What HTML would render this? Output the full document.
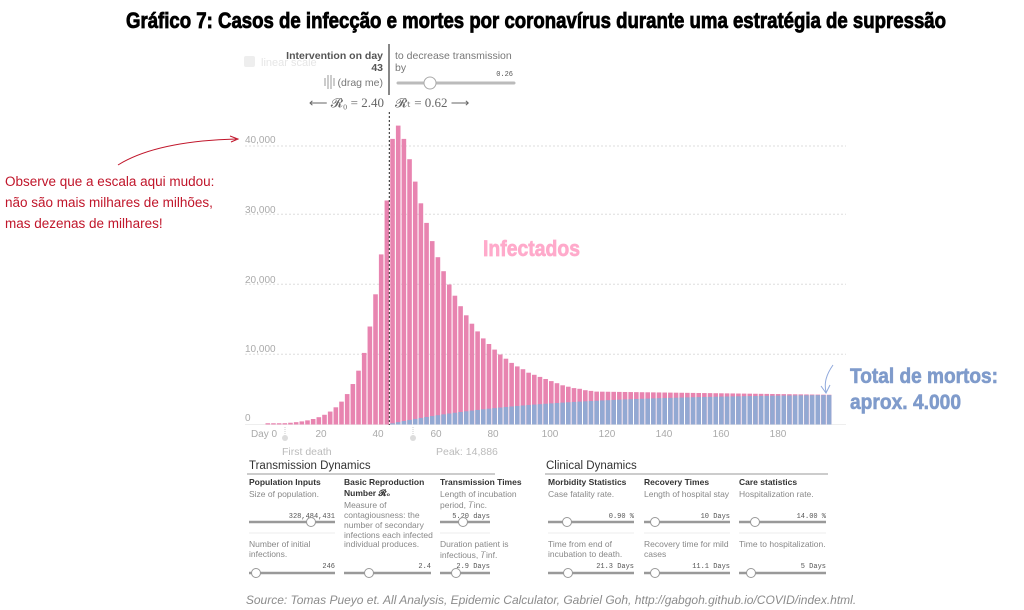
<!DOCTYPE html>
<html><head><meta charset="utf-8">
<style>
html,body{margin:0;padding:0;background:#fff;}
svg{display:block;}
text{font-family:"Liberation Sans",sans-serif;}
.ax{font-size:10px;fill:#aaa;}
.h{font-size:8.5px;font-weight:bold;fill:#333;}
.d{font-size:8.5px;fill:#888;}
.m{font-family:"Liberation Mono",monospace;font-size:7px;fill:#555;}
</style></head><body>
<svg id="s" width="1024" height="610" viewBox="0 0 1024 610" xmlns="http://www.w3.org/2000/svg">
<text x="536" y="28" text-anchor="middle" textLength="820" lengthAdjust="spacingAndGlyphs" style="font-family:'Liberation Sans Narrow','Liberation Sans',sans-serif;font-weight:bold;font-size:22px;fill:#000;stroke:#000;stroke-width:0.8">Gráfico 7: Casos de infecção e mortes por coronavírus durante uma estratégia de supressão</text>

<rect x="244" y="56" width="11" height="11" rx="2" fill="#eee"/>
<text x="261" y="66" style="font-size:11px;fill:#e6e6e6">linear scale</text>

<text x="383" y="59" text-anchor="end" style="font-size:10.5px;font-weight:bold;fill:#555">Intervention on day</text>
<text x="383" y="71" text-anchor="end" style="font-size:10.5px;font-weight:bold;fill:#555">43</text>
<text x="383" y="86" text-anchor="end" style="font-size:10.5px;fill:#777">(drag me)</text>
<path d="M325 78v8M328 75v14M331 75v14M334 78v8" stroke="#999" stroke-width="1"/>
<line x1="389" y1="44" x2="389" y2="95" stroke="#888" stroke-width="2"/>
<text x="395" y="59" style="font-size:10.5px;fill:#777">to decrease transmission</text>
<text x="395" y="71" style="font-size:10.5px;fill:#777">by</text>
<text x="513" y="76" text-anchor="end" class="m">0.26</text>
<line x1="398" y1="83" x2="514" y2="83" stroke="#bbb" stroke-width="3" stroke-linecap="round"/>
<circle cx="430" cy="83" r="6" fill="#fff" stroke="#aaa"/>
<text x="384" y="107" text-anchor="end" style="font-family:'Liberation Serif',serif;font-size:13px;fill:#666">⟵ 𝓡₀ = 2.40</text>
<text x="395" y="107" style="font-family:'Liberation Serif',serif;font-size:13px;fill:#666">𝓡ₜ = 0.62 ⟶</text>

<g stroke="#ddd" stroke-dasharray="2,2">
<line x1="245" y1="146" x2="846" y2="146"/><line x1="245" y1="214.3" x2="846" y2="214.3"/>
<line x1="245" y1="284.3" x2="846" y2="284.3"/><line x1="245" y1="354.3" x2="846" y2="354.3"/>
</g>
<line x1="245" y1="424.5" x2="846" y2="424.5" stroke="#eee"/>
<text class="ax" x="245" y="143">40,000</text><text class="ax" x="245" y="213">30,000</text>
<text class="ax" x="245" y="283">20,000</text><text class="ax" x="245" y="352">10,000</text>
<text class="ax" x="245" y="421">0</text>

<g id="bars"></g>
<line x1="389.3" y1="112" x2="389.3" y2="425" stroke="#222" stroke-dasharray="2,2"/>

<text x="483" y="256" textLength="97" lengthAdjust="spacingAndGlyphs" style="font-family:'Liberation Sans Narrow','Liberation Sans',sans-serif;font-weight:bold;font-size:22px;fill:#ffaacb;stroke:#ffaacb;stroke-width:0.7">Infectados</text>

<g class="ax" text-anchor="middle">
<text x="264" y="437">Day 0</text><text x="321" y="437">20</text><text x="378" y="437">40</text>
<text x="436" y="437">60</text><text x="493" y="437">80</text><text x="550" y="437">100</text>
<text x="607" y="437">120</text><text x="664" y="437">140</text><text x="721" y="437">160</text>
<text x="778" y="437">180</text>
</g>
<line x1="285" y1="427" x2="285" y2="437" stroke="#ccc" stroke-dasharray="1,1"/>
<circle cx="285" cy="438" r="3" fill="#ddd"/>
<line x1="413" y1="427" x2="413" y2="437" stroke="#ccc" stroke-dasharray="1,1"/>
<circle cx="413" cy="438" r="3" fill="#ddd"/>
<text x="282" y="455" style="font-size:10.5px;fill:#bbb">First death</text>
<text x="436" y="455" style="font-size:10.5px;fill:#bbb">Peak: 14,886</text>

<path d="M118 165 C150 145 200 140 236 139" fill="none" stroke="#c0152a" stroke-width="1"/>
<path d="M230 136 L238 139 L231 142" fill="none" stroke="#c0152a"/>
<g style="font-size:13.5px;fill:#c0152a">
<text x="5" y="186">Observe que a escala aqui mudou:</text>
<text x="5" y="207">não são mais milhares de milhões,</text>
<text x="5" y="228">mas dezenas de milhares!</text>
</g>

<text x="850" y="383" textLength="148" lengthAdjust="spacingAndGlyphs" style="font-family:'Liberation Sans Narrow','Liberation Sans',sans-serif;font-weight:bold;font-size:21px;fill:#7f9bcb;stroke:#7f9bcb;stroke-width:0.6">Total de mortos:</text>
<text x="850" y="409" textLength="111" lengthAdjust="spacingAndGlyphs" style="font-family:'Liberation Sans Narrow','Liberation Sans',sans-serif;font-weight:bold;font-size:21px;fill:#7f9bcb;stroke:#7f9bcb;stroke-width:0.6">aprox. 4.000</text>
<path d="M833 365 C826 375 824 383 826 392" fill="none" stroke="#8fa8dc"/>
<path d="M821 386 L826 393 L830 385" fill="none" stroke="#8fa8dc"/>

<text x="249" y="469" style="font-size:11.5px;fill:#333">Transmission Dynamics</text>
<line x1="247" y1="474" x2="495" y2="474" stroke="#999"/>
<text x="546" y="469" style="font-size:11.5px;fill:#333">Clinical Dynamics</text>
<line x1="545" y1="474" x2="828" y2="474" stroke="#999"/>

<g>
<text class="h" x="249" y="485">Population Inputs</text>
<text class="d" x="249" y="497">Size of population.</text>
<text class="m" x="335" y="518" text-anchor="end">328,484,431</text>
<text class="d" x="249" y="547">Number of initial</text><text class="d" x="249" y="557">infections.</text>
<text class="m" x="335" y="568" text-anchor="end">246</text>

<text class="h" x="344" y="485">Basic Reproduction</text>
<text class="h" x="344" y="496">Number 𝓡₀</text>
<text class="d" x="344" y="508">Measure of</text><text class="d" x="344" y="518">contagiousness: the</text>
<text class="d" x="344" y="528">number of secondary</text><text class="d" x="344" y="538">infections each infected</text>
<text class="d" x="344" y="547">individual produces.</text>
<text class="m" x="431" y="568" text-anchor="end">2.4</text>

<text class="h" x="440" y="485">Transmission Times</text>
<text class="d" x="440" y="497">Length of incubation</text><text class="d" x="440" y="508">period, 𝑇inc.</text>
<text class="m" x="490" y="518" text-anchor="end">5.20 days</text>
<text class="d" x="440" y="547">Duration patient is</text><text class="d" x="440" y="558">infectious, 𝑇inf.</text>
<text class="m" x="490" y="568" text-anchor="end">2.9 Days</text>

<text class="h" x="548" y="485">Morbidity Statistics</text>
<text class="d" x="548" y="497">Case fatality rate.</text>
<text class="m" x="634" y="518" text-anchor="end">0.90 %</text>
<text class="d" x="548" y="547">Time from end of</text><text class="d" x="548" y="557">incubation to death.</text>
<text class="m" x="634" y="568" text-anchor="end">21.3 Days</text>

<text class="h" x="644" y="485">Recovery Times</text>
<text class="d" x="644" y="497">Length of hospital stay</text>
<text class="m" x="730" y="518" text-anchor="end">10 Days</text>
<text class="d" x="644" y="547">Recovery time for mild</text><text class="d" x="644" y="557">cases</text>
<text class="m" x="730" y="568" text-anchor="end">11.1 Days</text>

<text class="h" x="739" y="485">Care statistics</text>
<text class="d" x="739" y="497">Hospitalization rate.</text>
<text class="m" x="826" y="518" text-anchor="end">14.00 %</text>
<text class="d" x="739" y="547">Time to hospitalization.</text>
<text class="m" x="826" y="568" text-anchor="end">5 Days</text>
</g>
<g id="sl"></g>
<g stroke="#eee"><line x1="249" y1="533" x2="335" y2="533"/><line x1="440" y1="533" x2="490" y2="533"/><line x1="548" y1="533" x2="634" y2="533"/><line x1="644" y1="533" x2="730" y2="533"/><line x1="739" y1="533" x2="826" y2="533"/></g>

<text x="551" y="604" text-anchor="middle" style="font-size:12px;font-style:italic;fill:#8c8c8c">Source: Tomas Pueyo et. All Analysis, Epidemic Calculator, Gabriel Goh, http://gabgoh.github.io/COVID/index.html.</text>
</svg>
<script>
(function(){
var NS="http://www.w3.org/2000/svg",g=document.getElementById("bars");
function r(p,x,y,w,h,c){var e=document.createElementNS(NS,"rect");e.setAttribute("x",x);e.setAttribute("y",y);e.setAttribute("width",w);e.setAttribute("height",h);e.setAttribute("fill",c);p.appendChild(e);}
var post=[40.8,42.7,40.8,37.9,34.7,31.6,28.8,26.2,23.9,21.9,20.0,18.4,16.9,15.6,14.4,13.3,12.3,11.5,10.7,10,9.4,8.8,8.3,7.9,7.4,7.1,6.8,6.5,6.2,5.9,5.6,5.4,5.2,5.1,4.9,4.8,4.7];
var pre=[];var v=32;for(var i=21;i>=0;i--){pre[i]=Math.max(v,0.18);v/=1.33;}
pre[20]=24.3;pre[19]=18.6;pre[18]=14;
var base=424.5,sc=7;
for(var i=0;i<100;i++){
 var x=265.5+5.67*i,tot,bl=0;
 if(i<22){tot=pre[i];}
 else{var k=i-22;tot=k<post.length?post[k]:4.7-(k-post.length+1)*(0.45/41);
  bl=4.4*(1-Math.exp(-(k+1)/25));if(bl>tot-0.05)bl=tot-0.05;}
 r(g,x,base-tot*sc,4.6,tot*sc,"#e884b0");
 if(bl>0)r(g,x,base-bl*sc,4.6,bl*sc,"#93a9d3");
}
var s=document.getElementById("sl");
var sl=[[249,335,522,311],[249,335,573,256],[344,431,573,369],[440,490,522,463],[440,490,573,456],[548,634,522,567],[548,634,573,568],[644,730,522,655],[644,730,573,655],[739,826,522,755],[739,826,573,751]];
sl.forEach(function(a){var l=document.createElementNS(NS,"line");l.setAttribute("x1",a[0]);l.setAttribute("x2",a[1]);l.setAttribute("y1",a[2]);l.setAttribute("y2",a[2]);l.setAttribute("stroke","#999");l.setAttribute("stroke-width","2.5");s.appendChild(l);
var c=document.createElementNS(NS,"circle");c.setAttribute("cx",a[3]);c.setAttribute("cy",a[2]);c.setAttribute("r","4.5");c.setAttribute("fill","#fff");c.setAttribute("stroke","#999");s.appendChild(c);});
})();
</script>
</body></html>
